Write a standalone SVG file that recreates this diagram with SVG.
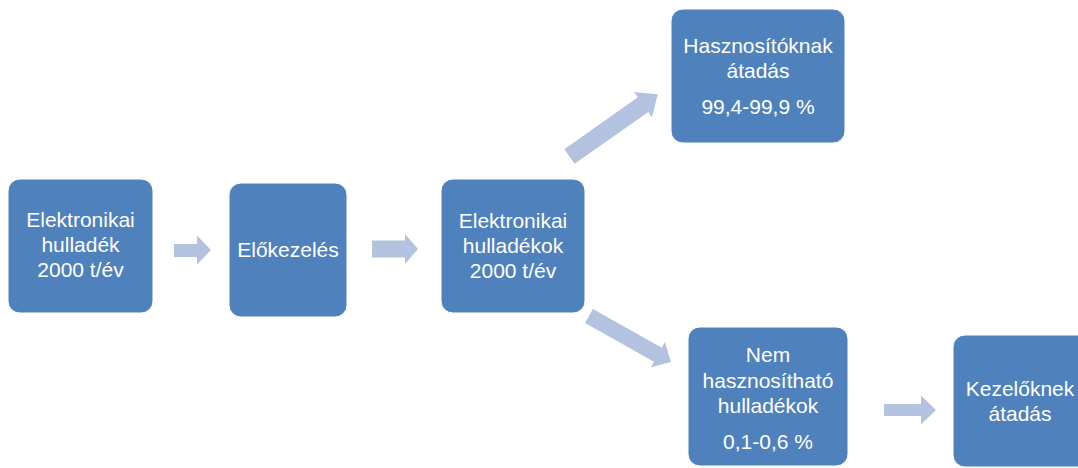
<svg xmlns="http://www.w3.org/2000/svg" width="1078" height="468" viewBox="0 0 1078 468">
<style>
.box{fill:#4F81BD;stroke:#ffffff;stroke-width:1}
.arr{fill:#B3C3DF}
text{font-family:"Liberation Sans",Arial,sans-serif;font-size:21px;fill:#ffffff;text-anchor:middle}
</style>
<rect width="1078" height="468" fill="#ffffff"/>
<g id="connectors">
<polygon class="arr" points="174,244 197,244 197,235.5 211,250 197,264.5 197,257 174,257"/>
<polygon class="arr" points="372,240.5 405,240.5 405,234 418,249 405,264 405,257.5 372,257.5"/>
<polygon class="arr" points="884,404 921,404 921,395.5 936,410 921,424.5 921,416 884,416"/>
<polygon class="arr" points="0,-9 90,-9 90,-15.5 108,0 90,15.5 90,9 0,9" transform="translate(569.5,156.5) rotate(-35.2)"/>
<polygon class="arr" points="0,-8 79,-8 79,-14.5 94,0 79,14.5 79,8 0,8" transform="translate(589,316) rotate(29.3)"/>
</g>
<g id="n1">
<rect class="box" x="8" y="179" width="145" height="134" rx="12"/>
<text x="80.5" y="227">Elektronikai</text>
<text x="80.5" y="252">hulladék</text>
<text x="80.5" y="277">2000 t/év</text>
</g>
<g id="n2">
<rect class="box" x="229" y="183" width="118" height="134" rx="12"/>
<text x="288" y="257">Előkezelés</text>
</g>
<g id="n3">
<rect class="box" x="441" y="179" width="144" height="134" rx="12"/>
<text x="513" y="228">Elektronikai</text>
<text x="513" y="253">hulladékok</text>
<text x="513" y="278">2000 t/év</text>
</g>
<g id="n4">
<rect class="box" x="671" y="9" width="174" height="134" rx="12"/>
<text x="758" y="53">Hasznosítóknak</text>
<text x="758" y="78">átadás</text>
<text x="758" y="114">99,4-99,9 %</text>
</g>
<g id="n5">
<rect class="box" x="688" y="327" width="160" height="139" rx="12"/>
<text x="768" y="362">Nem</text>
<text x="768" y="388">hasznosítható</text>
<text x="768" y="413">hulladékok</text>
<text x="768" y="449">0,1-0,6 %</text>
</g>
<g id="n6">
<rect class="box" x="953" y="335" width="140" height="132" rx="12"/>
<text x="1020" y="396">Kezelőknek</text>
<text x="1020" y="421">átadás</text>
</g>
</svg>
